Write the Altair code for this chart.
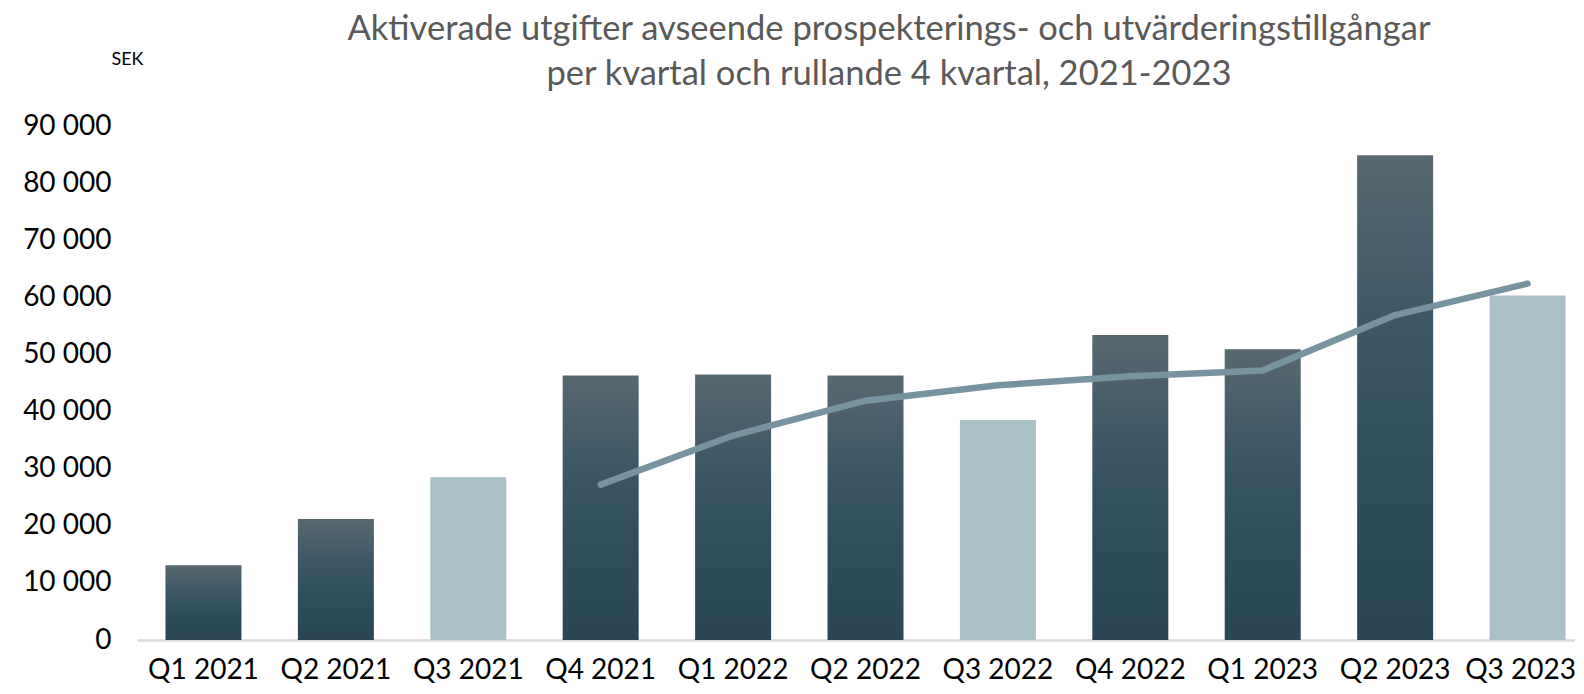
import altair as alt
import pandas as pd

quarters = ["Q1 2021", "Q2 2021", "Q3 2021", "Q4 2021", "Q1 2022", "Q2 2022",
            "Q3 2022", "Q4 2022", "Q1 2023", "Q2 2023", "Q3 2023"]
quarterly = [13100, 21200, 28500, 46300, 46500, 46300, 38500, 53400, 50900, 84900, 60300]
light_bar = [False, False, True, False, False, False, True, False, False, False, True]
rolling_quarters = ["Q4 2021", "Q1 2022", "Q2 2022", "Q3 2022", "Q4 2022",
                    "Q1 2023", "Q2 2023", "Q3 2023"]
rolling_4q = [27200, 35800, 41900, 44600, 46200, 47200, 56900, 62400]
y_ticks = [0, 10000, 20000, 30000, 40000, 50000, 60000, 70000, 80000, 90000]

bars_df = pd.DataFrame({"kvartal": quarters, "belopp": quarterly, "ljus": light_bar})
line_df = pd.DataFrame({"kvartal": rolling_quarters, "rullande": rolling_4q})

FONT = "Lato"
PLOT_W = 1438
RANGE_W = 1457

x_enc = alt.X(
    "kvartal:N",
    sort=quarters,
    scale=alt.Scale(domain=quarters, range=[0, RANGE_W], paddingInner=0.426, paddingOuter=0.215),
    axis=alt.Axis(
        title=None, labelAngle=0, labelFont=FONT, labelFontSize=28, labelColor="#000000",
        labelPadding=16, ticks=False, tickSize=0, domainColor="#d9d9d9", domainWidth=2.5,
        labelOverlap=False, labelFlush=False,
        labelOffset={"condition": {"test": "datum.value == 'Q3 2023'", "value": -7}, "value": 0},
    ),
)
y_scale = alt.Scale(domain=[0, 90000], nice=False)
y_axis = alt.Axis(
    values=y_ticks, grid=False, ticks=False, domain=False,
    labelExpr="datum.value == 0 ? '0' : floor(datum.value / 1000) + ' 000'",
    labelFont=FONT, labelFontSize=28, labelColor="#000000", labelPadding=26,
    title="SEK", titleAngle=0, titleFont=FONT, titleFontSize=18, titleFontWeight="normal",
    titleColor="#000000", titleX=-10, titleY=-67, titleAlign="center", titleBaseline="middle",
)

dark_gradient = alt.LinearGradient(
    gradient="linear", x1=0, y1=0, x2=0, y2=1,
    stops=[
        alt.GradientStop(color="#586871", offset=0),
        alt.GradientStop(color="#3c5765", offset=0.35),
        alt.GradientStop(color="#2f4d5b", offset=0.65),
        alt.GradientStop(color="#2a4655", offset=1),
    ],
)

dark_bars = alt.Chart(bars_df).transform_filter("!datum.ljus").mark_bar(
    color=dark_gradient, cornerRadius=0
).encode(
    x=x_enc,
    y=alt.Y("belopp:Q", scale=y_scale, axis=y_axis),
)

light_bars = alt.Chart(bars_df).transform_filter("datum.ljus").mark_bar(
    color="#a9c1c6", cornerRadius=0
).encode(
    x=x_enc,
    y=alt.Y("belopp:Q", scale=y_scale, axis=y_axis),
)

line = alt.Chart(line_df).mark_line(
    color="#7793a0", strokeWidth=6.5, strokeCap="round", strokeJoin="round"
).encode(
    x=x_enc,
    y=alt.Y("rullande:Q", scale=y_scale, axis=y_axis),
)

chart = alt.layer(dark_bars, light_bars, line).properties(
    width=PLOT_W,
    height=514,
    title=alt.TitleParams(
        text=["Aktiverade utgifter avseende prospekterings- och utvärderingstillgångar",
              "per kvartal och rullande 4 kvartal, 2021-2023"],
        font=FONT, fontSize=34.5, fontWeight="normal", color="#595959",
        lineHeight=45, anchor="middle", dx=33, offset=0, dy=42,
    ),
    autosize=alt.AutoSizeParams(type="none"),
    padding={"left": 129, "top": 118, "right": 0, "bottom": 46},
).configure(background="#ffffff").configure_view(stroke=None)

chart.save("out.html", embed_options={"renderer": "svg", "actions": False})
